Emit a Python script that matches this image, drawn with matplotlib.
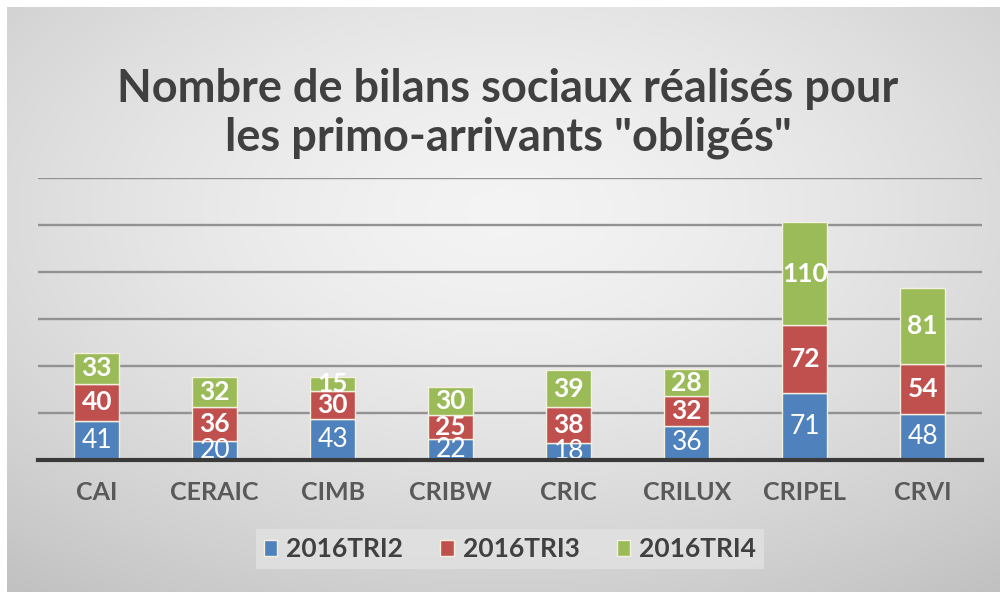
import numpy as np
import matplotlib
matplotlib.use("Agg")
import matplotlib.pyplot as plt

categories = ["CAI", "CERAIC", "CIMB", "CRIBW", "CRIC", "CRILUX", "CRIPEL", "CRVI"]
tri2 = [41, 20, 43, 22, 18, 36, 71, 48]
tri3 = [40, 36, 30, 25, 38, 32, 72, 54]
tri4 = [33, 32, 15, 30, 39, 28, 110, 81]
series_names = ["2016TRI2", "2016TRI3", "2016TRI4"]
colors = ["#4F81BD", "#C0504D", "#9BBB59"]
title = 'Nombre de bilans sociaux réalisés pour\nles primo-arrivants "obligés"'

plt.rcParams['font.family'] = ['Lato', 'DejaVu Sans']

fig = plt.figure(figsize=(10, 5.92), dpi=100)
fig.patch.set_facecolor("white")

# background gradient panel
bg = fig.add_axes([0.007, 0.0, 0.993, 0.988])
bg.set_axis_off()
ny, nx = 300, 500
yy, xx = np.mgrid[-1:1:ny*1j, -1:1:nx*1j]
r = np.sqrt(xx ** 2 + (yy + 0.3) ** 2) / np.sqrt(2)
val = 0.955 - 0.16 * np.clip(r, 0, 1.2) ** 1.5
bg.imshow(np.dstack([val, val, val]), aspect="auto", extent=[0, 1, 0, 1], interpolation="bilinear")
bg.set_xlim(0, 1); bg.set_ylim(0, 1)

ax = fig.add_axes([0.0377, 0.2238, 0.944, 0.4755])
ax.set_facecolor("none")
x = np.arange(len(categories))
width = 0.38
data = [tri2, tri3, tri4]
bottom = np.zeros(len(categories))
for i, (vals, col, name) in enumerate(zip(data, colors, series_names)):
    vals = np.array(vals, dtype=float)
    ax.bar(x, vals, width, bottom=bottom, color=col, edgecolor="#f4f0e0",
           linewidth=1.0, label=name, zorder=3)
    for xi, b, v in zip(x, bottom, vals):
        ax.text(xi, b + v / 2, f"{int(v)}", ha="center", va="center", color="white",
                fontsize=19, fontweight="normal" if i == 0 else "bold", zorder=4)
    bottom += vals

ax.set_xlim(-0.5, len(categories) - 0.5)
ax.set_ylim(0, 300)
ax.set_yticks(np.arange(50, 301, 50))
ax.yaxis.grid(True, color="#929292", linewidth=1.7, zorder=1)
ax.tick_params(axis="y", left=False, labelleft=False)
ax.tick_params(axis="x", bottom=False, pad=12)
ax.set_xticks(x)
ax.set_xticklabels(categories, fontsize=18, fontweight="bold", color="#595959")
for s in ["top", "right", "left"]:
    ax.spines[s].set_visible(False)
ax.spines["bottom"].set_color("#3a3a3a")
ax.spines["bottom"].set_linewidth(3)
ax.spines["bottom"].set_zorder(5)

fig.text(0.508, 0.808, title, ha="center", va="center", fontsize=32.5, fontweight="bold",
         color="#404040", linespacing=1.2)

leg = fig.legend(loc="center", bbox_to_anchor=(0.51, 0.072), ncol=3, frameon=True,
                 fontsize=19, handlelength=0.5, handleheight=0.5, columnspacing=1.4,
                 handletextpad=0.35, fancybox=False, borderpad=0.3)
leg.get_frame().set_facecolor("#e2e2e2")
leg.get_frame().set_edgecolor("none")
for t in leg.get_texts():
    t.set_color("#404040")
    t.set_fontweight("bold")

fig.savefig("out.png", dpi=100)
